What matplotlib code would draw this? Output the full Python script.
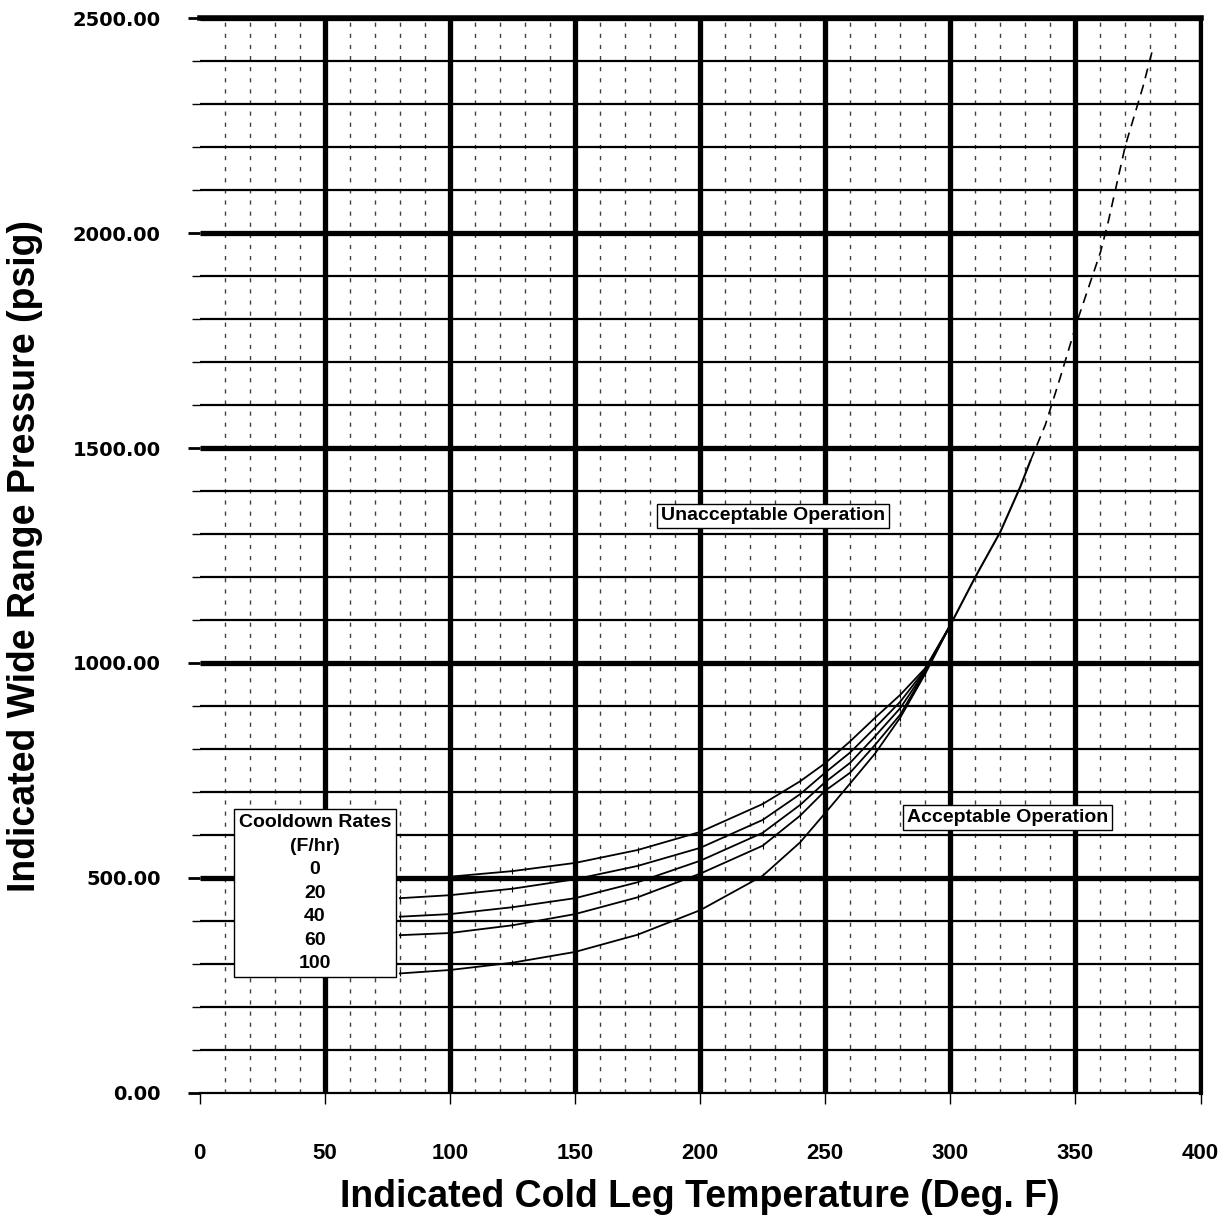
import numpy as np
import matplotlib
matplotlib.use("Agg")
import matplotlib.pyplot as plt
from matplotlib.ticker import MultipleLocator, FormatStrFormatter

# ---------------------------------------------------------------------------
# Datos (P-T, curvas de enfriamiento)
# ---------------------------------------------------------------------------
T_low = [80, 100, 125, 150, 175, 200, 225, 240, 250, 260, 270, 280, 290, 300]
p_r0   = [497, 503, 516, 535, 565, 607, 672, 725, 767, 818, 873, 926, 988, 1088]
p_r20  = [453, 460, 475, 497, 528, 570, 635, 695, 745, 792, 850, 910, 985, 1088]
p_r40  = [410, 416, 432, 453, 490, 540, 605, 670, 723, 768, 830, 895, 982, 1088]
p_r60  = [367, 372, 390, 416, 455, 510, 575, 645, 703, 745, 810, 880, 980, 1088]
p_r100 = [278, 286, 303, 328, 368, 425, 505, 583, 651, 720, 790, 873, 975, 1088]

# tramo comun por encima de 300 F
T_up = [300, 310, 320, 328, 332]
p_up = [1088, 1200, 1305, 1410, 1470]
T_dash = [332, 338, 344, 351, 360, 363, 370, 377, 381]
p_dash = [1470, 1554, 1665, 1800, 1955, 2023, 2204, 2340, 2430]

rates = ["0", "20", "40", "60", "100"]

x_major = np.arange(50, 401, 50)
x_minor = [v for v in range(10, 400, 10) if v % 50 != 0]
y_major = np.arange(500, 2501, 500)
y_minor = [v for v in range(100, 2500, 100) if v % 500 != 0]

fuente = "Liberation Sans"

fig = plt.figure(figsize=(12.25, 12.26), dpi=100)
ax = fig.add_axes([0.163, 0.1085, 0.817, 0.8768])
ax.set_xlim(0, 400)
ax.set_ylim(0, 2500)

# rejilla
ax.vlines(x_minor, 0, 2500, colors="black", lw=1.0, linestyles=(0, (3, 5)),
          alpha=0.75, zorder=1)
ax.hlines(y_minor, 0, 400, colors="black", lw=1.6, zorder=1)
ax.hlines(y_major, 0, 400, colors="black", lw=3.8, zorder=1)
ax.vlines(x_major, 0, 2500, colors="black", lw=3.8, zorder=1)

# curvas
for p in [p_r0, p_r20, p_r40, p_r60, p_r100]:
    ax.plot(T_low, p, color="black", lw=1.3, marker="|", ms=4, mew=0.8, zorder=4)
ax.plot(T_up, p_up, color="black", lw=1.5, zorder=4)
ax.plot(T_dash, p_dash, color="black", lw=1.2, ls=(0, (6, 4)), zorder=4)

# ejes
ax.spines["left"].set_visible(False)
ax.spines["top"].set_linewidth(4)
ax.spines["right"].set_linewidth(3)
ax.spines["bottom"].set_linewidth(1.6)

ax.xaxis.set_major_locator(MultipleLocator(50))
ax.yaxis.set_major_locator(MultipleLocator(500))
ax.yaxis.set_minor_locator(MultipleLocator(100))
ax.yaxis.set_major_formatter(FormatStrFormatter("%.2f"))
ax.tick_params(axis="y", which="major", length=9, width=2, pad=19,
               labelsize=14)
ax.tick_params(axis="y", which="minor", length=6, width=1)
ax.tick_params(axis="x", which="major", length=8, width=1, pad=28)

for lab in ax.get_yticklabels():
    lab.set_fontfamily("DejaVu Sans")
    lab.set_fontweight("bold")
for lab in ax.get_xticklabels():
    lab.set_fontfamily(fuente)
    lab.set_fontweight("bold")
    lab.set_fontsize(16)

ax.set_xlabel("Indicated Cold Leg Temperature (Deg. F)", family=fuente,
              fontweight="bold", fontsize=27)
ax.set_ylabel("Indicated Wide Range Pressure (psig)", family=fuente,
              fontweight="bold", fontsize=27)
ax.xaxis.set_label_coords(0.5, -0.08)
ax.yaxis.set_label_coords(-0.157, 0.5)

# cuadros de texto
ax.text(46, 465, "Cooldown Rates\n(F/hr)\n" + "\n".join(rates),
        ha="center", va="center", fontsize=14, fontweight="bold",
        family=fuente, linespacing=1.5, zorder=5,
        bbox=dict(boxstyle="square,pad=0.25", fc="white", ec="black", lw=1.0))
ax.text(229, 1342, "Unacceptable Operation", ha="center", va="center",
        fontsize=14, fontweight="bold", family=fuente, zorder=5,
        bbox=dict(boxstyle="square,pad=0.2", fc="white", ec="black", lw=1.0))
ax.text(323, 640, "Acceptable Operation", ha="center", va="center",
        fontsize=14, fontweight="bold", family=fuente, zorder=5,
        bbox=dict(boxstyle="square,pad=0.2", fc="white", ec="black", lw=1.0))

fig.savefig("out.png", dpi=100)
